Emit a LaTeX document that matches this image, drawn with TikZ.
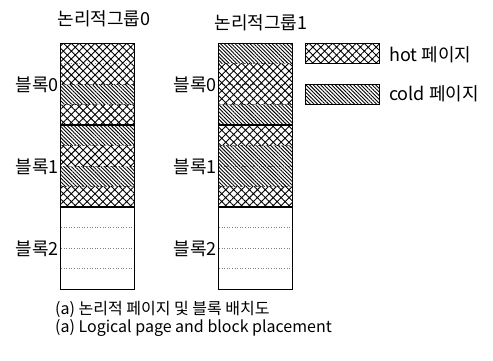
\documentclass[tikz,border=0pt]{standalone}
\usepackage{fontspec}
\setmainfont{Noto Sans CJK KR}
\usetikzlibrary{patterns.meta}
\tikzset{
  hotfill/.style={pattern={Hatch[angle=45,distance=5.6pt,line width=0.9pt]}},
  coldfill/.style={pattern={Lines[angle=-45,distance=2.6pt,line width=0.9pt]}},
  pagesep/.style={gray, dotted, line width=0.6pt},
  outline/.style={draw=black, line width=1.2pt},
  blocksep/.style={black, line width=1.6pt},
  lbl/.style={font=\fontsize{18}{20}\selectfont, inner sep=1pt},
  grptitle/.style={font=\fontsize{18}{20}\selectfont, inner sep=0pt},
  captext/.style={font=\fontsize{16}{18}\selectfont, inner sep=0pt, anchor=west},
}
\begin{document}
\begin{tikzpicture}[x=1pt,y=-1pt]
\useasboundingbox (0,0) rectangle (493,360);
\foreach \i/\t in {0/hotfill,1/hotfill,2/coldfill,3/hotfill,4/coldfill,5/hotfill,6/coldfill,7/hotfill}{
  \pgfmathsetmacro{\ya}{43+20.5*\i}
  \pgfmathsetmacro{\yb}{43+20.5*(\i+1)}
  \path[\t] (60,\ya) rectangle (134,\yb);
}
\foreach \i/\t in {0/coldfill,1/hotfill,2/hotfill,3/coldfill,4/hotfill,5/coldfill,6/coldfill,7/hotfill}{
  \pgfmathsetmacro{\ya}{43+20.5*\i}
  \pgfmathsetmacro{\yb}{43+20.5*(\i+1)}
  \path[\t] (218,\ya) rectangle (292,\yb);
}
\foreach \i in {1,2,3,5,6,7,9,10,11}{
  \pgfmathsetmacro{\ya}{43+20.5*\i}
  \draw[pagesep] (61,\ya) -- (133,\ya);
  \draw[pagesep] (219,\ya) -- (291,\ya);
}
\draw[blocksep] (60,125) -- (134,125);
\draw[blocksep] (60,207) -- (134,207);
\draw[blocksep] (218,125) -- (292,125);
\draw[blocksep] (218,207) -- (292,207);
\node[outline, minimum width=74pt, minimum height=246pt, inner sep=0pt, anchor=north west] (g0) at (60,43) {};
\node[outline, minimum width=74pt, minimum height=246pt, inner sep=0pt, anchor=north west] (g1) at (218,43) {};
% titles
\node[grptitle] (t0) at (104,19) {논리적그룹0};
\node[grptitle] (t1) at (261,23) {논리적그룹1};
% block labels
\node[lbl, anchor=east] (l00) at (g0.west |- 0,85) {블록0};
\node[lbl, anchor=east] (l01) at (g0.west |- 0,167) {블록1};
\node[lbl, anchor=east] (l02) at (g0.west |- 0,249) {블록2};
\node[lbl, anchor=east] (l10) at (g1.west |- 0,85) {블록0};
\node[lbl, anchor=east] (l11) at (g1.west |- 0,167) {블록1};
\node[lbl, anchor=east] (l12) at (g1.west |- 0,249) {블록2};
% legend
\path[hotfill] (305,43) rectangle (379,63);
\node[outline, minimum width=74pt, minimum height=20pt, inner sep=0pt, anchor=north west] (kh) at (305,43) {};
\path[coldfill] (305,84) rectangle (379,104);
\node[outline, minimum width=74pt, minimum height=20pt, inner sep=0pt, anchor=north west] (kc) at (305,84) {};
\node[lbl, anchor=west] (th) at (388,55) {hot 페이지};
\node[lbl, anchor=west] (tc) at (388,94) {cold 페이지};
% captions
\node[captext] (c1) at (55,309) {(a) 논리적 페이지 및 블록 배치도};
\node[captext] (c2) at (55,328) {(a) Logical page and block placement};
\end{tikzpicture}
\end{document}
